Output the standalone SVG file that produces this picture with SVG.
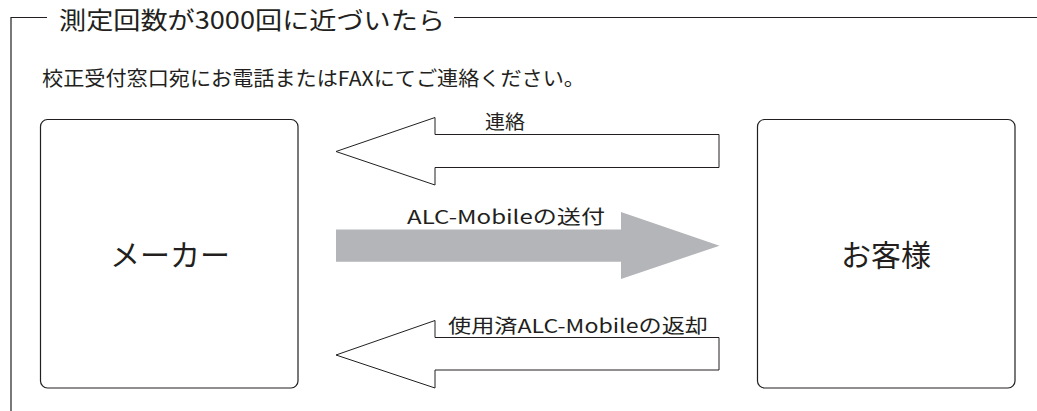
<svg xmlns="http://www.w3.org/2000/svg" width="1037" height="411" viewBox="0 0 1037 411">
<style>
text{font-family:"Noto Sans CJK JP","Noto Sans",sans-serif;fill:#231f20}
.frame{fill:none;stroke:#231f20;stroke-width:1.2}
.box{fill:#fff;stroke:#231f20;stroke-width:1.2}
.outline{fill:#fff;stroke:#231f20;stroke-width:1}
.solid{fill:#b4b5b8;stroke:none}
.lbl{font-size:19px}
.node{font-size:30px}
</style>
<rect width="1037" height="411" fill="#fff"/>
<g id="frame">
<path class="frame" d="M47,17.5 H11 V411"/>
<path class="frame" d="M454,17.5 H1037"/>
<text x="59" y="29" font-size="24" textLength="386" lengthAdjust="spacingAndGlyphs">測定回数が3000回に近づいたら</text>
<text x="42" y="86" font-size="20" textLength="543" lengthAdjust="spacingAndGlyphs">校正受付窓口宛にお電話またはFAXにてご連絡ください。</text>
</g>
<g id="maker">
<rect class="box" x="40.5" y="119.5" width="257.5" height="268.5" rx="7"/>
<text class="node" x="170" y="266" text-anchor="middle">メーカー</text>
</g>
<g id="customer">
<rect class="box" x="757.5" y="119.5" width="257.5" height="268.5" rx="7"/>
<text class="node" x="886" y="266" text-anchor="middle">お客様</text>
</g>
<g id="connectors">
<g id="contact">
<path class="outline" d="M336,151.5 L435,117.5 V134.5 H719 V167.5 H435 V185 Z"/>
<text class="lbl" x="485" y="129" textLength="40" lengthAdjust="spacingAndGlyphs">連絡</text>
</g>
<g id="send">
<path class="solid" d="M336,229.5 H621 V212 L719.5,245.7 L621,279 V261.7 H336 Z"/>
<text class="lbl" x="407" y="224" textLength="198" lengthAdjust="spacingAndGlyphs">ALC-Mobileの送付</text>
</g>
<g id="return">
<path class="outline" d="M336,355 L435,320.5 V337.5 H719 V370 H435 V388 Z"/>
<text class="lbl" x="448" y="333" textLength="260" lengthAdjust="spacingAndGlyphs">使用済ALC-Mobileの返却</text>
</g>
</g>
</svg>
